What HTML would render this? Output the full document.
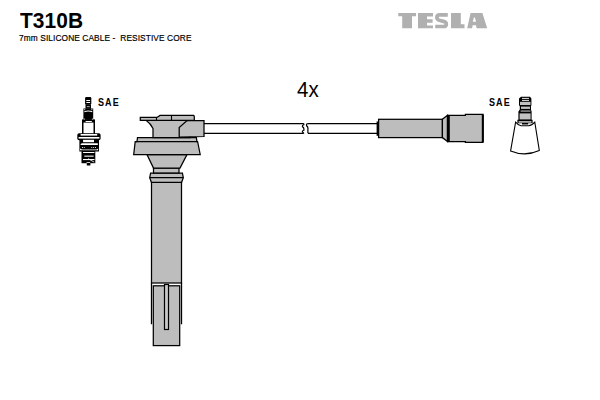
<!DOCTYPE html>
<html><head><meta charset="utf-8">
<style>
html,body{margin:0;padding:0;background:#fff;width:600px;height:400px;overflow:hidden;}
body{position:relative;font-family:"Liberation Sans",sans-serif;}
.t{position:absolute;white-space:nowrap;color:#000;line-height:1;}
svg{position:absolute;left:0;top:0;}
</style></head><body>
<svg width="600" height="400" viewBox="0 0 600 400">
<g stroke="#000" stroke-width="1.25" fill="#bdbdbd" stroke-linejoin="miter">
  <!-- cable -->
  <path d="M204 123.5 H303.8 M204 133.3 H303.8" fill="none"/>
  <path d="M307.3 123.5 H378 M308 133.3 H378" fill="none"/>
  <path d="M303.8 123.5 V124.8 Q301.8 125.6 302.6 126.9 Q303.9 127.6 303.9 129 V130.2 Q301.8 131 302.6 132.2 Q303.9 132.6 303.8 133.3" fill="none" stroke-width="1.2"/>
  <path d="M307.3 123.5 Q306 124.6 306.6 125.9 Q307.9 126.6 307.9 128 V133.3" fill="none" stroke-width="1.2"/>

  <!-- coil boot: lower tip -->
  <path d="M151.5 283 V324.2 M181.5 283 V324.2" fill="none" stroke-width="1.3"/>
  <rect x="153.3" y="285.8" width="26.4" height="59.8" />
  <rect x="164.5" y="284.5" width="4" height="45" fill="#c9c9c9" stroke-width="1.2"/>
  <!-- tube -->
  <rect x="151.5" y="182" width="30" height="101" />
  <!-- collar -->
  <path d="M151.4 182.3 L149.7 177.6 L150.6 173 H182.4 L183.3 177.6 L181.6 182.3 Z"/>
  <path d="M149.7 177.6 H183.3" fill="none"/>
  <!-- neck ring -->
  <rect x="153.5" y="168" width="25.5" height="5"/>
  <!-- taper -->
  <path d="M147 154.5 L187 154.5 L180 168 L153.5 168 Z"/>
  <!-- skirt -->
  <path d="M137.5 137.5 H196.4 L196.9 141.5 H197.6 L200.2 154.5 H133.7 L135.2 141.5 H137 Z"/>
  <path d="M135.2 141.5 H197.6" fill="none"/>
  <!-- waist -->
  <path d="M146 120.3 Q150.5 123.5 153 128.5 L153 137.5 L190 137.5 L190 120.3 Z"/>
  <!-- connector box -->
  <path d="M179.2 137 V127.5 L186.5 121 L190 120.5 H204 V136.5 Z"/>
  <!-- top plate -->
  <path d="M140.3 117.4 H157 L160 115.4 H193.5 Q194.4 115.8 194.3 117 V120.3 H140.3 Z"/>
  <path d="M156.5 117.5 V120.5 M171.5 115.5 V120.5" fill="none" stroke-width="1.1"/>

  <!-- right connector -->
  <rect x="378.6" y="119.3" width="63.8" height="18.3"/>
  <path d="M377.6 121.5 V135.8" fill="none" stroke-width="2"/>
  <path d="M442.4 119.3 L447.5 115.3 V141.5 L442.4 137.6 Z"/>
  <path d="M447.5 115.3 H465.4 V114.3 H483 V142.3 H465.4 V141.5 H447.5 Z"/>
  <path d="M448.6 115.3 V141.5" stroke-width="2.4" fill="none"/>
  <path d="M482.8 114.6 V142" stroke-width="2" fill="none"/>

  <!-- right terminal cone -->
  <path d="M515.6 122.2 Q518.5 125.6 521 125.8 H528.5 Q532 125.6 534.8 122.2 L539.3 150.5 Q525 157 510.6 151 Z" fill="#fff" stroke-width="1.1"/>
  <g stroke="none">
    <!-- black silhouette -->
    <path d="M521 96.8 H530 L531.4 98.6 V105.2 L531 106.3 V109.5 L531.6 111.6 V119.7 H532.6 V123.2 H528.2 V124.6 H522 V123.2 H517.4 V119.7 H518.4 V111.6 L519.8 109.5 V106.3 L519 105.2 V98.6 Z" fill="#000"/>
    <rect x="522" y="97.9" width="7" height="0.9" fill="#fff"/>
    <rect x="522" y="99.9" width="7" height="0.9" fill="#fff"/>
    <rect x="520" y="101.8" width="10.5" height="3.2" fill="#c2c2c2"/>
    <rect x="521" y="106.6" width="9" height="2.3" fill="#c2c2c2"/>
    <rect x="520.6" y="110.6" width="9.8" height="0.9" fill="#e8e8e8"/>
    <rect x="519.6" y="113.4" width="11" height="6" fill="#c2c2c2"/>
    <rect x="518.6" y="121.1" width="12.8" height="1.6" fill="#c2c2c2"/>
  </g>

  <!-- spark plug left -->
  <g stroke="none" fill="#000">
    <rect x="85.1" y="97" width="6.2" height="7.8" rx="1.2"/>
    <rect x="85.5" y="104.5" width="5.5" height="4.3"/>
    <rect x="83.4" y="108.5" width="9.8" height="11.4"/>
    <rect x="82" y="119.4" width="13" height="3.4"/>
    <rect x="82" y="122" width="13" height="11.8"/>
    <rect x="77.3" y="133.3" width="23.3" height="6.9" rx="1.8"/>
    <rect x="79.4" y="139.8" width="19.6" height="11.7"/>
    <rect x="81.5" y="150.5" width="13.8" height="12.7"/>
    <rect x="86.8" y="163" width="3.6" height="2.5"/>
  </g>
  <g stroke="none" fill="#fff">
    <rect x="86.3" y="100" width="3.8" height="1"/>
    <rect x="86.3" y="102" width="3.8" height="1"/>
    <rect x="86.8" y="106" width="2.9" height="1.2" fill="#9a9a9a"/>
    <rect x="84.2" y="109.2" width="1" height="1"/><rect x="91.4" y="109.2" width="1" height="1"/>
    <path d="M84.3 112.2 Q88.3 110.6 92.3 112.2 V111.3 Q88.3 109.8 84.3 111.3 Z"/>
    <rect x="83.8" y="118.6" width="1" height="1"/><rect x="91.9" y="118.6" width="1" height="1"/>
    <rect x="85.6" y="121" width="6.2" height="1"/>
    <rect x="83.5" y="122.6" width="10" height="10.6"/>
    <rect x="80.6" y="134" width="16.6" height="1.6"/>
    <rect x="78.6" y="137" width="20.8" height="1.6"/>
    <rect x="83.1" y="139.8" width="10.9" height="2.4"/>
    <path d="M80.5 145.1 Q80.5 143.2 82 143.2 H97.8 V145.1 Z"/>
    <rect x="82" y="147" width="0.9" height="0.9"/><rect x="83.8" y="147" width="0.9" height="0.9"/>
    <rect x="91.3" y="147" width="0.9" height="0.9"/><rect x="93.2" y="147" width="0.9" height="0.9"/><rect x="95.1" y="147" width="0.9" height="0.9"/>
    <path d="M80.1 148.6 Q81 149.4 82 149.4 H96.5 Q97.5 149.4 98.1 148.6 V150.2 H80.1 Z"/>
    <rect x="83.1" y="152" width="11.3" height="1"/>
    <rect x="84.3" y="155.6" width="9.3" height="1.1"/>
    <rect x="83" y="159" width="11.5" height="1.1"/>
    <rect x="86.6" y="162" width="3.6" height="0.8"/>
  </g>
  <path d="M88 158.6 L94.2 162.2" stroke="#fff" stroke-width="0.8" fill="none"/>
</g>
<g fill="#b0b0b0" stroke="none">
  <path d="M398.3 13 H416 V16.2 H412 V28.3 H402.2 V16.2 H398.3 Z"/>
  <path d="M418 13 H433 V16.4 H427 V19.2 H432.6 V22.8 H427 V25.6 H433 V28.3 H418 Z"/>
  <path d="M451 13 H460.8 V24.3 H464.5 V28.3 H451 Z"/>
  <path fill-rule="evenodd" d="M470.6 13 H482.4 L487.2 28.3 H476.6 L476 25.2 H472.7 L472.1 28.3 H467.2 Z M473.9 17.6 H474.9 L476 21.8 H472.8 Z"/>
</g>
<path d="M447.8 14.8 H439.6 Q436.9 14.8 436.9 17.6 Q436.9 19.6 439.2 20.3 L444.2 21.6 Q446.3 22.3 446.3 24.2 Q446.3 26.5 443.6 26.5 H435.2" fill="none" stroke="#b0b0b0" stroke-width="3.7"/>
</svg>
<div class="t" style="left:20px;top:10px;font-size:22px;font-weight:bold;transform:scaleX(0.95);transform-origin:0 0;letter-spacing:0.1px;">T310B</div>
<div class="t" style="left:19.3px;top:32.8px;font-size:9.8px;letter-spacing:0.12px;transform:scaleX(0.85);transform-origin:0 0;-webkit-text-stroke:0.2px #000;">7mm SILICONE CABLE -&nbsp; RESISTIVE CORE</div>
<div class="t" style="left:98.3px;top:98.2px;font-size:10px;font-weight:bold;letter-spacing:1.2px;transform:scaleX(0.9);transform-origin:0 0;">SAE</div>
<div class="t" style="left:489px;top:98.2px;font-size:10px;font-weight:bold;letter-spacing:1.2px;transform:scaleX(0.9);transform-origin:0 0;">SAE</div>
<div class="t" style="left:296.8px;top:79px;font-size:22px;transform:scaleX(0.93);transform-origin:0 0;">4x</div>

</body></html>
